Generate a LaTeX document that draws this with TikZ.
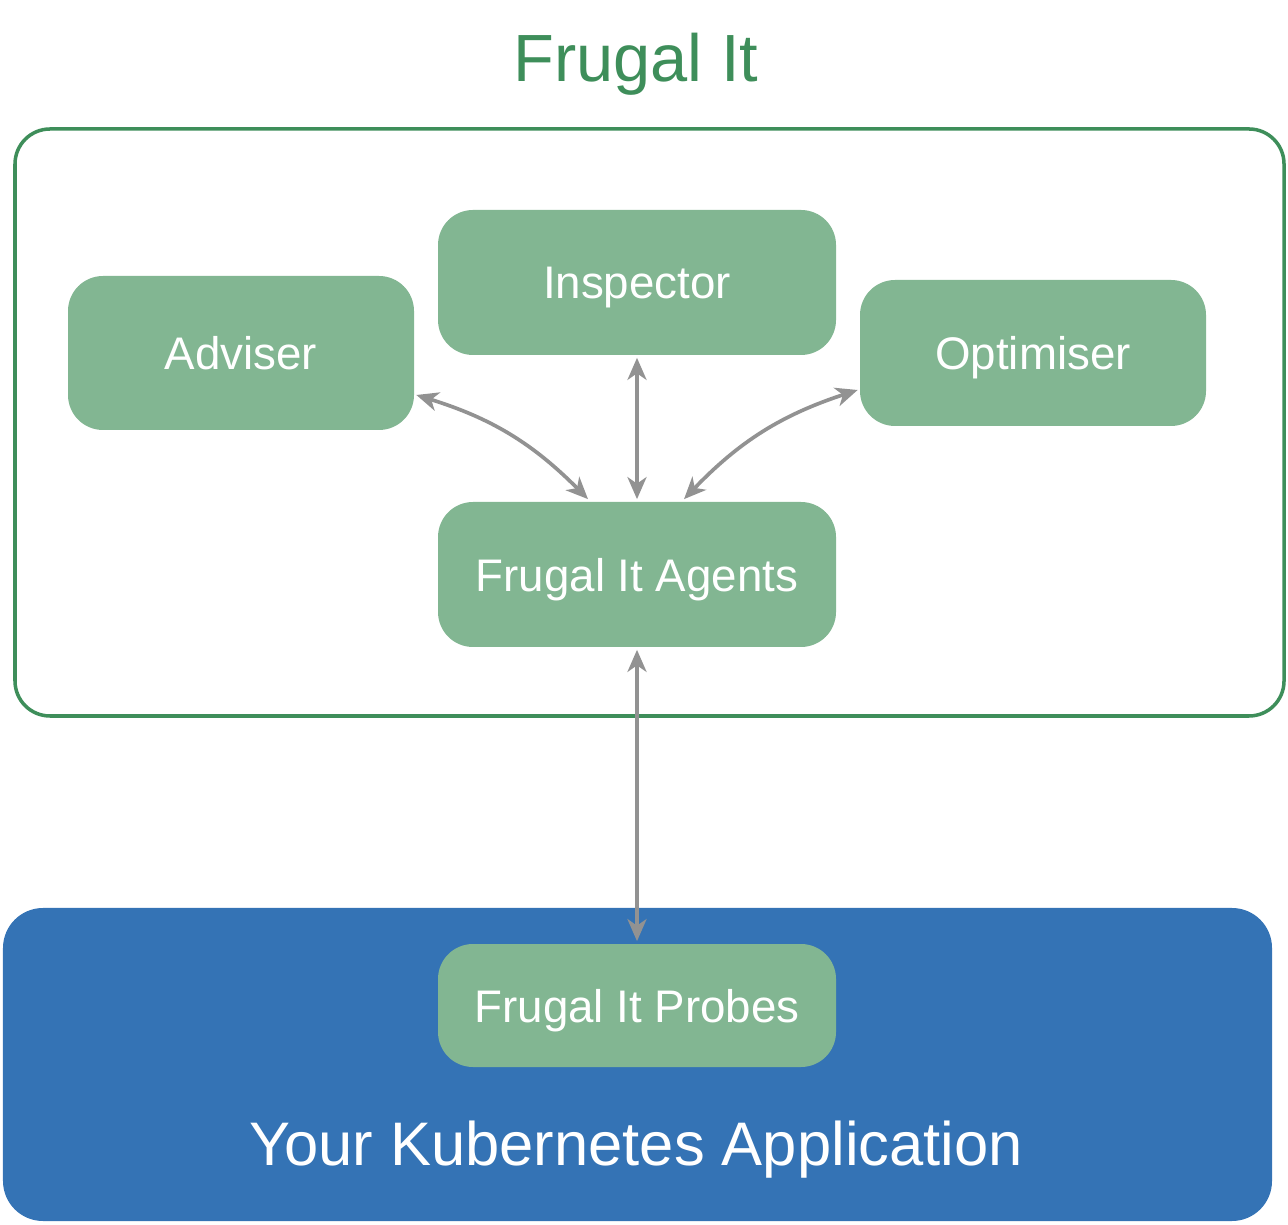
\documentclass[tikz,border=0pt]{standalone}
\usepackage{fontspec}
\setmainfont{Liberation Sans}
\usetikzlibrary{arrows.meta,positioning}

\definecolor{boxgreen}{HTML}{82B692}
\definecolor{framegreen}{HTML}{3E8E5A}
\definecolor{appblue}{HTML}{3473B5}
\definecolor{arrowgray}{HTML}{929292}

\begin{document}
\begin{tikzpicture}[
  comp/.style={fill=boxgreen, rounded corners=0.7cm, minimum width=7.96cm, minimum height=2.9cm, align=center, text=white, text depth=0pt, font=\fontsize{26}{30}\selectfont},
  side/.style={comp, minimum width=6.92cm},
  link/.style={{Stealth[length=4.4mm, width=3.8mm, inset=1.3mm]}-{Stealth[length=4.4mm, width=3.8mm, inset=1.3mm]}, line width=2.1pt, arrowgray}
]
\useasboundingbox (0,0) rectangle (25.76,24.48);

% Title and frame
\node[text=framegreen, text depth=0pt, font=\fontsize{38}{44}\selectfont] (title) at (12.72,23.34) {Frugal It};
\draw[framegreen, line width=2pt, rounded corners=0.7cm] (0.3,10.16) rectangle (25.68,21.9);

% Application
\fill[appblue, rounded corners=0.8cm] (0.06,0.06) rectangle (25.44,6.32);
\node[text=white, text depth=0pt, font=\fontsize{35}{40}\selectfont] (app) at (12.72,1.62) {Your Kubernetes Application};

% Components
\node[comp] (insp) at (12.74,18.83) {Inspector};
\node[side, minimum height=3.08cm] (adv) at (4.82,17.42) {Adviser};
\node[side, minimum height=2.92cm] (opt) at (20.66,17.42) {Optimiser};
\node[comp] (agents) at (12.74,12.99) {Frugal It Agents};
\node[comp, minimum height=2.46cm] (probes) at (12.74,4.37) {Frugal It Probes};

% Arrows
\draw[link] ([xshift=-0.98cm, yshift=0.05cm]agents.north) to[bend right=14] ([xshift=0.04cm, yshift=-0.84cm]adv.east);
\draw[link] ([yshift=0.05cm]agents.north) -- ([yshift=-0.05cm]insp.south);
\draw[link] ([xshift=0.94cm, yshift=0.05cm]agents.north) to[bend left=14] ([xshift=-0.04cm, yshift=-0.74cm]opt.west);
\draw[link] ([yshift=-0.05cm]agents.south) -- ([yshift=0.05cm]probes.north);
\end{tikzpicture}
\end{document}
